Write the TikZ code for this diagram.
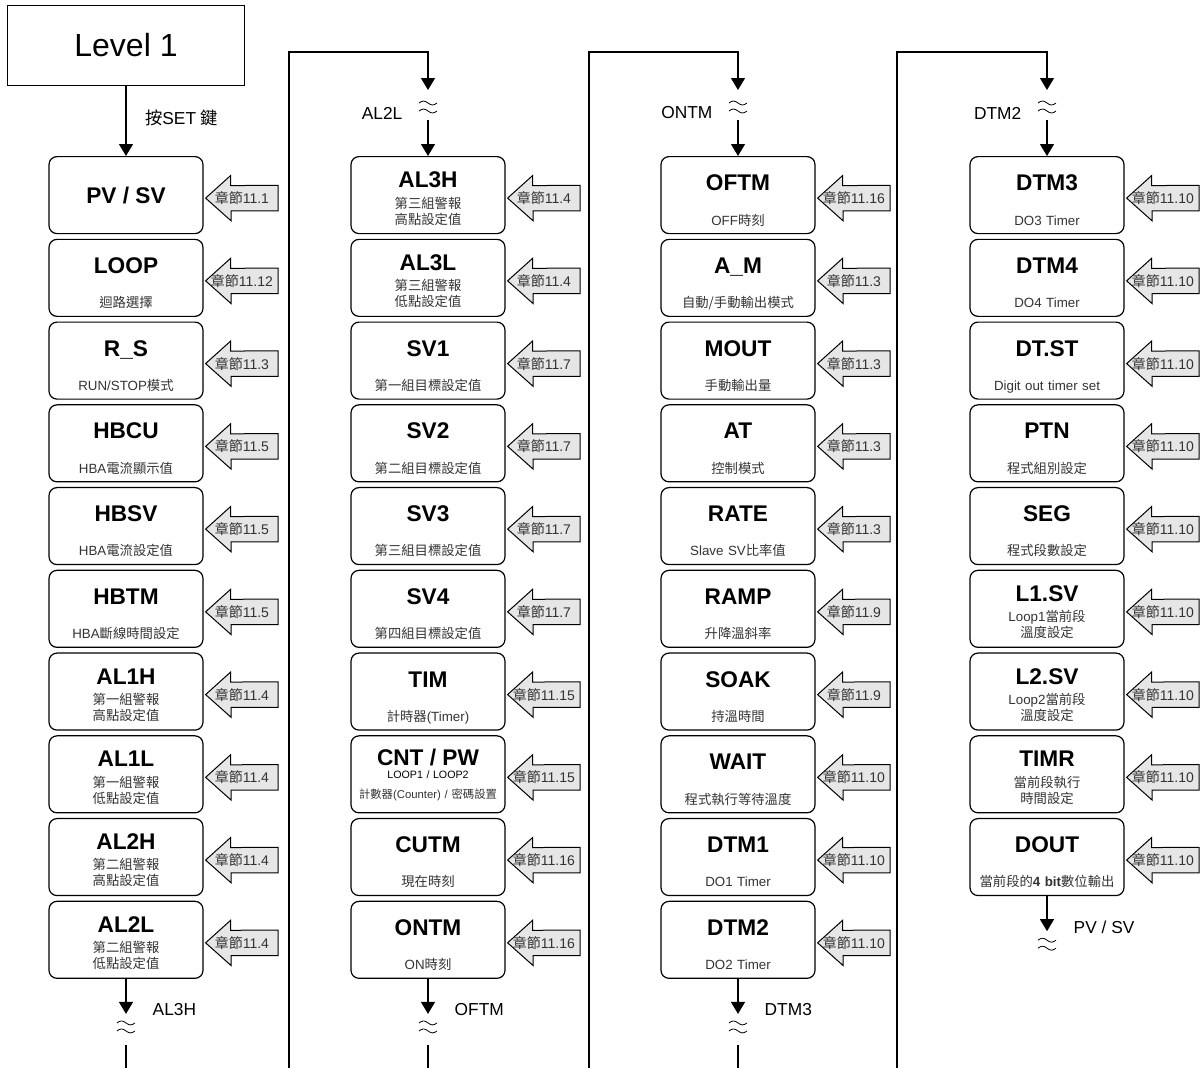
\documentclass[tikz,border=0pt]{standalone}
\usepackage{fontspec}
\setmainfont{Liberation Sans}
\newfontfamily\cjk{Noto Sans CJK TC}
\usetikzlibrary{positioning, arrows.meta}
\pgfdeclarelayer{background}
\pgfsetlayers{background,main}
\definecolor{tagfill}{HTML}{E6E6E6}
\definecolor{subgray}{HTML}{333333}
\tikzstyle{lvl}=[draw, line width=0.75pt, minimum width=177.75pt,
    minimum height=60pt, font=\fontsize{24}{28}\selectfont]
\tikzstyle{blk}=[draw, rounded corners=6pt, line width=0.9pt,
    minimum width=115.5pt, inner ysep=0pt, text height=25.5pt,
    text depth=32.25pt, font=\fontsize{17}{20}\selectfont\bfseries]
\tikzstyle{blkb}=[blk, text height=23.25pt, text depth=34.5pt]
\tikzstyle{subtxt}=[anchor=base, text width=112pt, align=center,
    text=subgray, font=\fontsize{10}{12}\selectfont]
\tikzstyle{sub}=[subtxt, yshift=-51.75pt]
\tikzstyle{subb}=[subtxt, yshift=-39pt]
\tikzstyle{tag}=[minimum width=54pt, minimum height=18.75pt, inner sep=0pt,
    text=subgray, font=\fontsize{10.5}{12}\selectfont]
\tikzstyle{lbl}=[font=\fontsize{13}{15}\selectfont]
\tikzstyle{arr}=[line width=0.9pt, -{Triangle[length=9pt,width=10.5pt]}]
\tikzstyle{brk}=[line width=0.6pt]
\def\gap{3.41pt}

\begin{document}
\begin{tikzpicture}[x=0.75pt, y=-0.75pt]
    \useasboundingbox (0,0) rectangle (1203,1068);
    \node (lv1) [lvl] at (126,45) {Level 1};
    % column 1
    \node (pv) [blk, anchor=north, text height=35pt, text depth=22.75pt] at (126,156) {PV / SV};
    \node (loop) [blk, below=\gap of pv, label={[sub]north:{\cjk 迴路選擇}}] {LOOP};
    \node (rs) [blk, below=\gap of loop, label={[sub]north:RUN/STOP{\cjk 模式}}] {R\_S};
    \node (hbcu) [blk, below=\gap of rs, label={[sub]north:HBA{\cjk 電流顯示值}}] {HBCU};
    \node (hbsv) [blk, below=\gap of hbcu, label={[sub]north:HBA{\cjk 電流設定值}}] {HBSV};
    \node (hbtm) [blk, below=\gap of hbsv, label={[sub]north:HBA{\cjk 斷線時間設定}}] {HBTM};
    \node (al1h) [blkb, below=\gap of hbtm, label={[subb]north:{\cjk 第一組警報\\高點設定值}}] {AL1H};
    \node (al1l) [blkb, below=\gap of al1h, label={[subb]north:{\cjk 第一組警報\\低點設定值}}] {AL1L};
    \node (al2h) [blkb, below=\gap of al1l, label={[subb]north:{\cjk 第二組警報\\高點設定值}}] {AL2H};
    \node (al2l) [blkb, below=\gap of al2h, label={[subb]north:{\cjk 第二組警報\\低點設定值}}] {AL2L};
    % column 2
    \node (al3h) [blkb, anchor=north, label={[subb]north:{\cjk 第三組警報\\高點設定值}}] at (428,156) {AL3H};
    \node (al3l) [blkb, below=\gap of al3h, label={[subb]north:{\cjk 第三組警報\\低點設定值}}] {AL3L};
    \node (sv1) [blk, below=\gap of al3l, label={[sub]north:{\cjk 第一組目標設定值}}] {SV1};
    \node (sv2) [blk, below=\gap of sv1, label={[sub]north:{\cjk 第二組目標設定值}}] {SV2};
    \node (sv3) [blk, below=\gap of sv2, label={[sub]north:{\cjk 第三組目標設定值}}] {SV3};
    \node (sv4) [blk, below=\gap of sv3, label={[sub]north:{\cjk 第四組目標設定值}}] {SV4};
    \node (tim) [blk, below=\gap of sv4, label={[sub]north:{\cjk 計時器}(Timer)}] {TIM};
    \node (cnt) [blk, below=\gap of tim, text height=22.5pt, text depth=35.25pt,
        label={[subtxt, yshift=-32.25pt, text=black, font=\fontsize{8}{9}\selectfont]north:LOOP1 / LOOP2},
        label={[subtxt, yshift=-47.25pt, font=\fontsize{8.5}{10}\selectfont]north:{\cjk 計數器}(Counter) / {\cjk 密碼設置}}] {CNT / PW};
    \node (cutm) [blk, below=\gap of cnt, label={[sub]north:{\cjk 現在時刻}}] {CUTM};
    \node (ontm) [blk, below=\gap of cutm, label={[sub]north:ON{\cjk 時刻}}] {ONTM};
    % column 3
    \node (oftm) [blk, anchor=north, label={[sub]north:OFF{\cjk 時刻}}] at (738,156) {OFTM};
    \node (am) [blk, below=\gap of oftm, label={[sub]north:{\cjk 自動/手動輸出模式}}] {A\_M};
    \node (mout) [blk, below=\gap of am, label={[sub]north:{\cjk 手動輸出量}}] {MOUT};
    \node (at) [blk, below=\gap of mout, label={[sub]north:{\cjk 控制模式}}] {AT};
    \node (rate) [blk, below=\gap of at, label={[sub]north:Slave SV{\cjk 比率值}}] {RATE};
    \node (ramp) [blk, below=\gap of rate, label={[sub]north:{\cjk 升降溫斜率}}] {RAMP};
    \node (soak) [blk, below=\gap of ramp, label={[sub]north:{\cjk 持溫時間}}] {SOAK};
    \node (wait) [blk, below=\gap of soak, label={[sub]north:{\cjk 程式執行等待溫度}}] {WAIT};
    \node (dtm1) [blk, below=\gap of wait, label={[sub]north:DO1 Timer}] {DTM1};
    \node (dtm2) [blk, below=\gap of dtm1, label={[sub]north:DO2 Timer}] {DTM2};
    % column 4
    \node (dtm3) [blk, anchor=north, label={[sub]north:DO3 Timer}] at (1047,156) {DTM3};
    \node (dtm4) [blk, below=\gap of dtm3, label={[sub]north:DO4 Timer}] {DTM4};
    \node (dtst) [blk, below=\gap of dtm4, label={[sub]north:Digit out timer set}] {DT.ST};
    \node (ptn) [blk, below=\gap of dtst, label={[sub]north:{\cjk 程式組別設定}}] {PTN};
    \node (seg) [blk, below=\gap of ptn, label={[sub]north:{\cjk 程式段數設定}}] {SEG};
    \node (l1sv) [blkb, below=\gap of seg, label={[subb]north:Loop1{\cjk 當前段\\溫度設定}}] {L1.SV};
    \node (l2sv) [blkb, below=\gap of l1sv, label={[subb]north:Loop2{\cjk 當前段\\溫度設定}}] {L2.SV};
    \node (timr) [blkb, below=\gap of l2sv, label={[subb]north:{\cjk 當前段執行\\時間設定}}] {TIMR};
    \node (dout) [blk, below=\gap of timr, label={[sub]north:{\cjk 當前段的}{\bfseries 4 bit}{\cjk 數位輸出}}] {DOUT};
    % chapter tags
    \node (c1) [tag, right=1.5pt of pv, yshift=-2.25pt] {{\cjk 章節}11.1};
    \node (c2) [tag, right=1.5pt of loop, yshift=-2.25pt] {{\cjk 章節}11.12};
    \node (c3) [tag, right=1.5pt of rs, yshift=-2.25pt] {{\cjk 章節}11.3};
    \node (c4) [tag, right=1.5pt of hbcu, yshift=-2.25pt] {{\cjk 章節}11.5};
    \node (c5) [tag, right=1.5pt of hbsv, yshift=-2.25pt] {{\cjk 章節}11.5};
    \node (c6) [tag, right=1.5pt of hbtm, yshift=-2.25pt] {{\cjk 章節}11.5};
    \node (c7) [tag, right=1.5pt of al1h, yshift=-2.25pt] {{\cjk 章節}11.4};
    \node (c8) [tag, right=1.5pt of al1l, yshift=-2.25pt] {{\cjk 章節}11.4};
    \node (c9) [tag, right=1.5pt of al2h, yshift=-2.25pt] {{\cjk 章節}11.4};
    \node (c10) [tag, right=1.5pt of al2l, yshift=-2.25pt] {{\cjk 章節}11.4};
    \node (c11) [tag, right=1.5pt of al3h, yshift=-2.25pt] {{\cjk 章節}11.4};
    \node (c12) [tag, right=1.5pt of al3l, yshift=-2.25pt] {{\cjk 章節}11.4};
    \node (c13) [tag, right=1.5pt of sv1, yshift=-2.25pt] {{\cjk 章節}11.7};
    \node (c14) [tag, right=1.5pt of sv2, yshift=-2.25pt] {{\cjk 章節}11.7};
    \node (c15) [tag, right=1.5pt of sv3, yshift=-2.25pt] {{\cjk 章節}11.7};
    \node (c16) [tag, right=1.5pt of sv4, yshift=-2.25pt] {{\cjk 章節}11.7};
    \node (c17) [tag, right=1.5pt of tim, yshift=-2.25pt] {{\cjk 章節}11.15};
    \node (c18) [tag, right=1.5pt of cnt, yshift=-2.25pt] {{\cjk 章節}11.15};
    \node (c19) [tag, right=1.5pt of cutm, yshift=-2.25pt] {{\cjk 章節}11.16};
    \node (c20) [tag, right=1.5pt of ontm, yshift=-2.25pt] {{\cjk 章節}11.16};
    \node (c21) [tag, right=1.5pt of oftm, yshift=-2.25pt] {{\cjk 章節}11.16};
    \node (c22) [tag, right=1.5pt of am, yshift=-2.25pt] {{\cjk 章節}11.3};
    \node (c23) [tag, right=1.5pt of mout, yshift=-2.25pt] {{\cjk 章節}11.3};
    \node (c24) [tag, right=1.5pt of at, yshift=-2.25pt] {{\cjk 章節}11.3};
    \node (c25) [tag, right=1.5pt of rate, yshift=-2.25pt] {{\cjk 章節}11.3};
    \node (c26) [tag, right=1.5pt of ramp, yshift=-2.25pt] {{\cjk 章節}11.9};
    \node (c27) [tag, right=1.5pt of soak, yshift=-2.25pt] {{\cjk 章節}11.9};
    \node (c28) [tag, right=1.5pt of wait, yshift=-2.25pt] {{\cjk 章節}11.10};
    \node (c29) [tag, right=1.5pt of dtm1, yshift=-2.25pt] {{\cjk 章節}11.10};
    \node (c30) [tag, right=1.5pt of dtm2, yshift=-2.25pt] {{\cjk 章節}11.10};
    \node (c31) [tag, right=1.5pt of dtm3, yshift=-2.25pt] {{\cjk 章節}11.10};
    \node (c32) [tag, right=1.5pt of dtm4, yshift=-2.25pt] {{\cjk 章節}11.10};
    \node (c33) [tag, right=1.5pt of dtst, yshift=-2.25pt] {{\cjk 章節}11.10};
    \node (c34) [tag, right=1.5pt of ptn, yshift=-2.25pt] {{\cjk 章節}11.10};
    \node (c35) [tag, right=1.5pt of seg, yshift=-2.25pt] {{\cjk 章節}11.10};
    \node (c36) [tag, right=1.5pt of l1sv, yshift=-2.25pt] {{\cjk 章節}11.10};
    \node (c37) [tag, right=1.5pt of l2sv, yshift=-2.25pt] {{\cjk 章節}11.10};
    \node (c38) [tag, right=1.5pt of timr, yshift=-2.25pt] {{\cjk 章節}11.10};
    \node (c39) [tag, right=1.5pt of dout, yshift=-2.25pt] {{\cjk 章節}11.10};
    % breaks between the columns
    \coordinate (in2) at (428,107);
    \coordinate (in3) at (738,107);
    \coordinate (in4) at (1047,107);
    \coordinate (top2) at (428,52);
    \coordinate (top3) at (738,52);
    \coordinate (top4) at (1047,52);
    \coordinate [below=36pt of al2l] (out1);
    \coordinate [below=36pt of ontm] (out2);
    \coordinate [below=36pt of dtm2] (out3);
    \coordinate [below=36pt of dout] (out4);
    \coordinate (foot1) at (126,1068);
    \coordinate (foot2) at (289,1068);
    \coordinate (foot3) at (589,1068);
    \coordinate (foot4) at (897,1068);
    \coordinate (foot5) at (428,1068);
    \coordinate (foot6) at (738,1068);
    \draw[arr] (lv1) -- node [lbl, anchor=west, xshift=10.5pt, yshift=2pt] {{\cjk 按}SET {\cjk 鍵}} (pv);
    \draw[arr] (foot2) |- (top2) -- ([yshift=12.75pt]in2);
    \draw[arr] (foot3) |- (top3) -- ([yshift=12.75pt]in3);
    \draw[arr] (foot4) |- (top4) -- ([yshift=12.75pt]in4);
    \draw[arr] ([yshift=-9.75pt]in2) -- (al3h);
    \draw[arr] ([yshift=-9.75pt]in3) -- (oftm);
    \draw[arr] ([yshift=-9.75pt]in4) -- (dtm3);
    \draw[arr] (al2l) -- ([yshift=9.75pt]out1);
    \draw[arr] (ontm) -- ([yshift=9.75pt]out2);
    \draw[arr] (dtm2) -- ([yshift=9.75pt]out3);
    \draw[arr] (dout) -- ([yshift=9.75pt]out4);
    \draw[line width=0.9pt] ([yshift=-13.5pt]out1) -- (foot1);
    \draw[line width=0.9pt] ([yshift=-13.5pt]out2) -- (foot5);
    \draw[line width=0.9pt] ([yshift=-13.5pt]out3) -- (foot6);
    \foreach \b in {in2,in3,in4,out1,out2,out3,out4}
        \draw[brk] ([xshift=-6.75pt,yshift=3pt]\b) sin ++(3.375pt,1.5pt) cos ++(3.375pt,-1.5pt)
            sin ++(3.375pt,-1.5pt) cos ++(3.375pt,1.5pt)
            ([xshift=-6.75pt,yshift=-3pt]\b) sin ++(3.375pt,1.5pt) cos ++(3.375pt,-1.5pt)
            sin ++(3.375pt,-1.5pt) cos ++(3.375pt,1.5pt);
    \node (n2) [lbl, anchor=east] at ([xshift=-15.75pt,yshift=-4.5pt]in2) {AL2L};
    \node (n3) [lbl, anchor=east] at ([xshift=-15.75pt,yshift=-4.5pt]in3) {ONTM};
    \node (n4) [lbl, anchor=east] at ([xshift=-15.75pt,yshift=-4.5pt]in4) {DTM2};
    \node (m1) [lbl, anchor=west] at ([xshift=16.5pt,yshift=12.75pt]out1) {AL3H};
    \node (m2) [lbl, anchor=west] at ([xshift=16.5pt,yshift=12.75pt]out2) {OFTM};
    \node (m3) [lbl, anchor=west] at ([xshift=16.5pt,yshift=12.75pt]out3) {DTM3};
    \node (m4) [lbl, anchor=west] at ([xshift=16.5pt,yshift=12.75pt]out4) {PV / SV};
    \begin{pgfonlayer}{background}
        \foreach \i in {1,...,39}
            \draw[line width=0.75pt, fill=tagfill] (c\i.west) -- ++(18.75pt,16.9pt)
                -- ++(0,-7.5pt) -- (c\i.north east) -- (c\i.south east)
                -- ++(-35.25pt,0) -- ++(0,-7.5pt) -- cycle;
    \end{pgfonlayer}
\end{tikzpicture}
\end{document}
